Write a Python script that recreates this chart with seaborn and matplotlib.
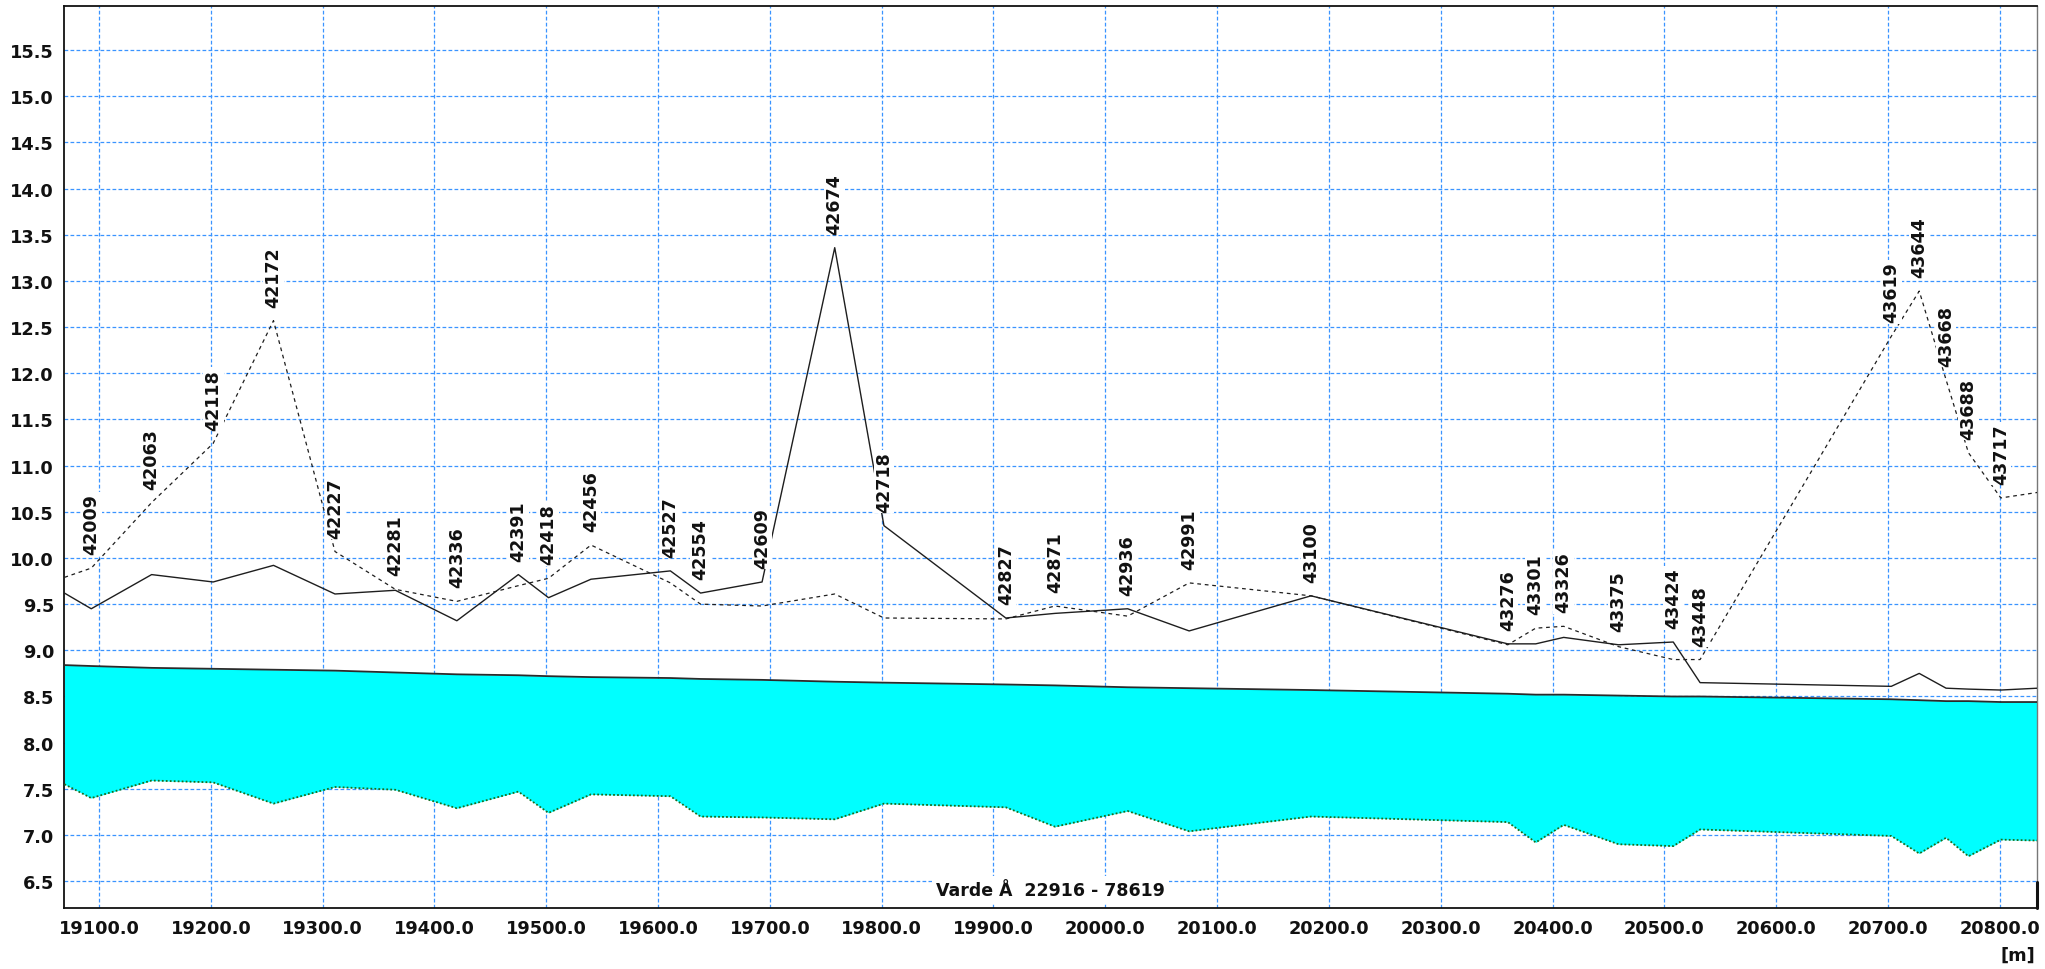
import matplotlib
matplotlib.use("Agg")
import matplotlib.pyplot as plt
from matplotlib.ticker import MultipleLocator, FormatStrFormatter
import numpy as np
import pandas as pd
import seaborn as sns

# Cross-section ids along the reach; chainage = id - reach offset
reach_name = "Varde Å"
reach_start = 22916
reach_end = 78619
station_ids = [42009, 42063, 42118, 42172, 42227, 42281, 42336, 42391, 42418,
               42456, 42527, 42554, 42609, 42674, 42718, 42827, 42871, 42936,
               42991, 43100, 43276, 43301, 43326, 43375, 43424, 43448, 43619,
               43644, 43668, 43688, 43717]
chain_first = 19069
chain_last = 20834
chainage = [chain_first] + [s - reach_start for s in station_ids] + [chain_last]

# Left bank (solid), right bank (dashed), water surface, bed level [m]
left_bank = [9.62, 9.45, 9.82, 9.74, 9.92, 9.61, 9.65, 9.32, 9.82, 9.57,
             9.77, 9.86, 9.62, 9.74, 13.36, 10.35, 9.35, 9.40, 9.45, 9.21,
             9.59, 9.07, 9.07, 9.14, 9.06, 9.09, 8.65, 8.61, 8.75, 8.59,
             8.58, 8.57, 8.59]
right_bank = [9.79, 9.89, 10.60, 11.24, 12.57, 10.07, 9.66, 9.53, 9.70, 9.78,
              10.14, 9.73, 9.50, 9.48, 9.61, 9.35, 9.34, 9.48, 9.37, 9.73,
              9.59, 9.06, 9.24, 9.26, 9.04, 8.90, 8.90, 12.40, 12.89, 11.93,
              11.14, 10.65, 10.71]
water_level = [8.84, 8.83, 8.81, 8.80, 8.79, 8.78, 8.76, 8.74, 8.73, 8.72,
               8.71, 8.70, 8.69, 8.68, 8.66, 8.65, 8.63, 8.62, 8.60, 8.59,
               8.57, 8.53, 8.52, 8.52, 8.51, 8.50, 8.50, 8.47, 8.46, 8.45,
               8.45, 8.44, 8.44]
bed_level = [7.55, 7.40, 7.59, 7.57, 7.34, 7.52, 7.49, 7.29, 7.47, 7.24,
             7.44, 7.42, 7.20, 7.19, 7.17, 7.34, 7.30, 7.09, 7.26, 7.04,
             7.20, 7.14, 6.92, 7.11, 6.90, 6.88, 7.06, 6.99, 6.80, 6.97,
             6.77, 6.95, 6.94]

x_ticks_major = 100.0
x_ticks_minor = 10.0
y_ticks_major = 0.5
y_ticks_minor = 0.1

df = pd.DataFrame({
    "chainage": chainage,
    "left": left_bank,
    "right": right_bank,
    "water": water_level,
    "bed": bed_level,
})

sns.set_style("white")
plt.rcParams["font.family"] = ["DejaVu Sans"]

fig = plt.figure(figsize=(20.45, 9.70), dpi=100)
ax = fig.add_axes([0.0315, 0.0629, 0.9644, 0.9302])

xlim = (19069, 20833)
ylim = (6.21, 15.98)

# water body between bed and surface
ax.fill_between(df["chainage"], df["bed"], df["water"], color="#00FFFF",
                linewidth=0, zorder=2)
sns.lineplot(data=df, x="chainage", y="water", ax=ax, color="#2b2b2b",
             linewidth=1.3, sort=False, estimator=None, zorder=3)
sns.lineplot(data=df, x="chainage", y="bed", ax=ax, color="#1d6b1d",
             linewidth=1.3, linestyle=(0, (1, 1.2)), sort=False,
             estimator=None, zorder=3)
sns.lineplot(data=df, x="chainage", y="left", ax=ax, color="#1e1e1e",
             linewidth=1.0, sort=False, estimator=None, zorder=3)
sns.lineplot(data=df, x="chainage", y="right", ax=ax, color="#1e1e1e",
             linewidth=0.9, linestyle=(0, (3, 3)), sort=False,
             estimator=None, zorder=3)

# station labels above the higher bank
for sid in station_ids:
    i = chainage.index(sid - reach_start)
    top = max(left_bank[i], right_bank[i])
    ax.annotate(str(sid), xy=(chainage[i], top), xytext=(0, 10),
                textcoords="offset points", rotation=90, ha="center",
                va="bottom", fontsize=12.6, fontweight="bold", color="#111111",
                bbox=dict(boxstyle="square,pad=0.08", fc="white", ec="none"),
                zorder=6, annotation_clip=False)

ax.text(0.5, 0.0203, f"{reach_name}  {reach_start} - {reach_end}",
        transform=ax.transAxes, ha="center", va="center", fontsize=12.5,
        fontweight="bold", color="#111111",
        bbox=dict(boxstyle="square,pad=0.25", fc="white", ec="none"), zorder=6)

ax.set_xlim(*xlim)
ax.set_ylim(*ylim)
ax.xaxis.set_major_locator(MultipleLocator(x_ticks_major))
ax.xaxis.set_minor_locator(MultipleLocator(x_ticks_minor))
ax.yaxis.set_major_locator(MultipleLocator(y_ticks_major))
ax.yaxis.set_minor_locator(MultipleLocator(y_ticks_minor))
ax.xaxis.set_major_formatter(FormatStrFormatter("%.1f"))
ax.yaxis.set_major_formatter(FormatStrFormatter("%.1f"))

ax.grid(True, which="major", color="#3a94ff", linestyle=(0, (3, 1.8)),
        linewidth=0.9, zorder=0)
ax.set_axisbelow(True)

ax.tick_params(axis="both", which="both", direction="out", color="#222222",
               width=1.0)
ax.tick_params(axis="y", which="major", length=4.5, pad=3, labelsize=12.8)
ax.tick_params(axis="y", which="minor", length=2.4)
ax.tick_params(axis="x", which="major", length=3.2, pad=4.5, labelsize=12.8)
ax.tick_params(axis="x", which="minor", length=2.2)
for lbl in ax.get_xticklabels() + ax.get_yticklabels():
    lbl.set_fontweight("bold")
    lbl.set_color("#111111")

for side in ("left", "bottom", "top"):
    ax.spines[side].set_color("#111111")
    ax.spines[side].set_linewidth(1.3)
ax.spines["right"].set_color("#777777")
ax.spines["right"].set_linewidth(1.0)
ax.axvline(xlim[1], ymin=0, ymax=(6.49 - ylim[0]) / (ylim[1] - ylim[0]),
           color="#111111", linewidth=2.2, clip_on=False, zorder=7)

ax.set_xlabel("")
ax.set_ylabel("")
fig.text(0.9952, 0.0145, "[m]", ha="right", va="center", fontsize=12.8,
         fontweight="bold", color="#111111")

fig.savefig("out.png", dpi=100)
